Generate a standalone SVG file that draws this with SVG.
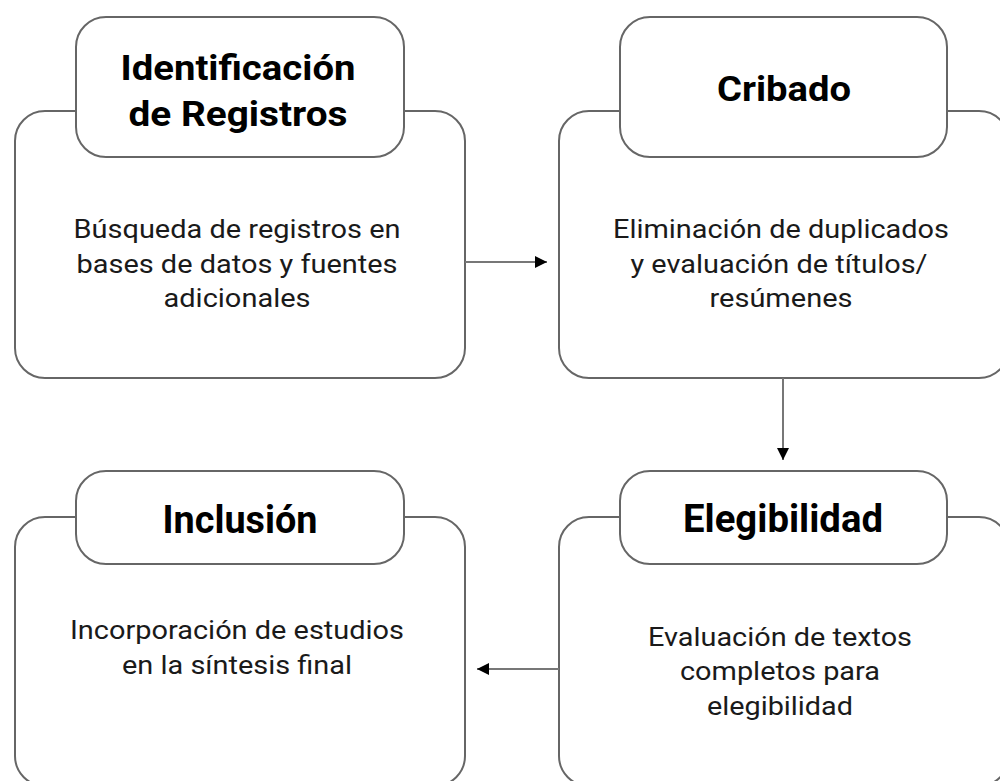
<svg xmlns="http://www.w3.org/2000/svg" width="1000" height="781" viewBox="0 0 1000 781">
  <defs>
    <style>
      .box { fill: #ffffff; stroke: #666666; stroke-width: 2; }
      .title { font-family: Roboto, "Liberation Sans", sans-serif; font-weight: bold; font-size: 35px; fill: #000000; text-anchor: middle; }
      .title2 { font-family: Roboto, "Liberation Sans", sans-serif; font-weight: bold; font-size: 38px; fill: #000000; text-anchor: middle; }
      .body { font-family: Roboto, "Liberation Sans", sans-serif; font-size: 25px; fill: #1a1a1a; text-anchor: middle; }
      .conn { stroke: #777777; stroke-width: 2; fill: none; }
    </style>
    <marker id="arrow" viewBox="0 0 12 12" refX="12" refY="6" markerWidth="12" markerHeight="12" markerUnits="userSpaceOnUse" orient="auto">
      <path d="M0,0 L12,6 L0,12 Z" fill="#000000"/>
    </marker>
  </defs>
  <rect width="1000" height="781" fill="#ffffff"/>

  <g id="identificacion">
    <rect class="box" x="15" y="111" width="450" height="267" rx="30" ry="30"/>
    <rect class="box" x="76" y="17" width="328" height="140" rx="30" ry="30"/>
    <text class="title" x="238" y="80" textLength="235" lengthAdjust="spacingAndGlyphs">Identificación</text>
    <text class="title" x="238" y="126" textLength="219" lengthAdjust="spacingAndGlyphs">de Registros</text>
    <text class="body" x="237" y="238" textLength="327" lengthAdjust="spacingAndGlyphs">Búsqueda de registros en</text>
    <text class="body" x="237" y="273" textLength="321" lengthAdjust="spacingAndGlyphs">bases de datos y fuentes</text>
    <text class="body" x="237" y="307" textLength="147" lengthAdjust="spacingAndGlyphs">adicionales</text>
  </g>

  <g id="cribado">
    <rect class="box" x="559" y="111" width="450" height="267" rx="30" ry="30"/>
    <rect class="box" x="620" y="17" width="327" height="140" rx="30" ry="30"/>
    <text class="title" x="784" y="101" textLength="134" lengthAdjust="spacingAndGlyphs">Cribado</text>
    <text class="body" x="781" y="238" textLength="336" lengthAdjust="spacingAndGlyphs">Eliminación de duplicados</text>
    <text class="body" x="779" y="273" textLength="297" lengthAdjust="spacingAndGlyphs">y evaluación de títulos/</text>
    <text class="body" x="781" y="307" textLength="143" lengthAdjust="spacingAndGlyphs">resúmenes</text>
  </g>

  <g id="elegibilidad">
    <rect class="box" x="559" y="517" width="450" height="269" rx="30" ry="30"/>
    <rect class="box" x="620" y="471" width="327" height="93" rx="30" ry="30"/>
    <text class="title2" x="783" y="532" textLength="200" lengthAdjust="spacingAndGlyphs">Elegibilidad</text>
    <text class="body" x="780" y="646" textLength="264" lengthAdjust="spacingAndGlyphs">Evaluación de textos</text>
    <text class="body" x="780" y="680" textLength="200" lengthAdjust="spacingAndGlyphs">completos para</text>
    <text class="body" x="780" y="715" textLength="146" lengthAdjust="spacingAndGlyphs">elegibilidad</text>
  </g>

  <g id="inclusion">
    <rect class="box" x="15" y="517" width="450" height="269" rx="30" ry="30"/>
    <rect class="box" x="76" y="471" width="328" height="93" rx="30" ry="30"/>
    <text class="title2" x="240" y="533" textLength="155" lengthAdjust="spacingAndGlyphs">Inclusión</text>
    <text class="body" x="237" y="639" textLength="334" lengthAdjust="spacingAndGlyphs">Incorporación de estudios</text>
    <text class="body" x="237" y="674" textLength="230" lengthAdjust="spacingAndGlyphs">en la síntesis final</text>
  </g>

  <g id="connectors">
    <line class="conn" x1="465" y1="262" x2="547" y2="262" marker-end="url(#arrow)"/>
    <line class="conn" x1="783" y1="378" x2="783" y2="460" marker-end="url(#arrow)"/>
    <line class="conn" x1="559" y1="669" x2="477" y2="669" marker-end="url(#arrow)"/>
  </g>
</svg>
